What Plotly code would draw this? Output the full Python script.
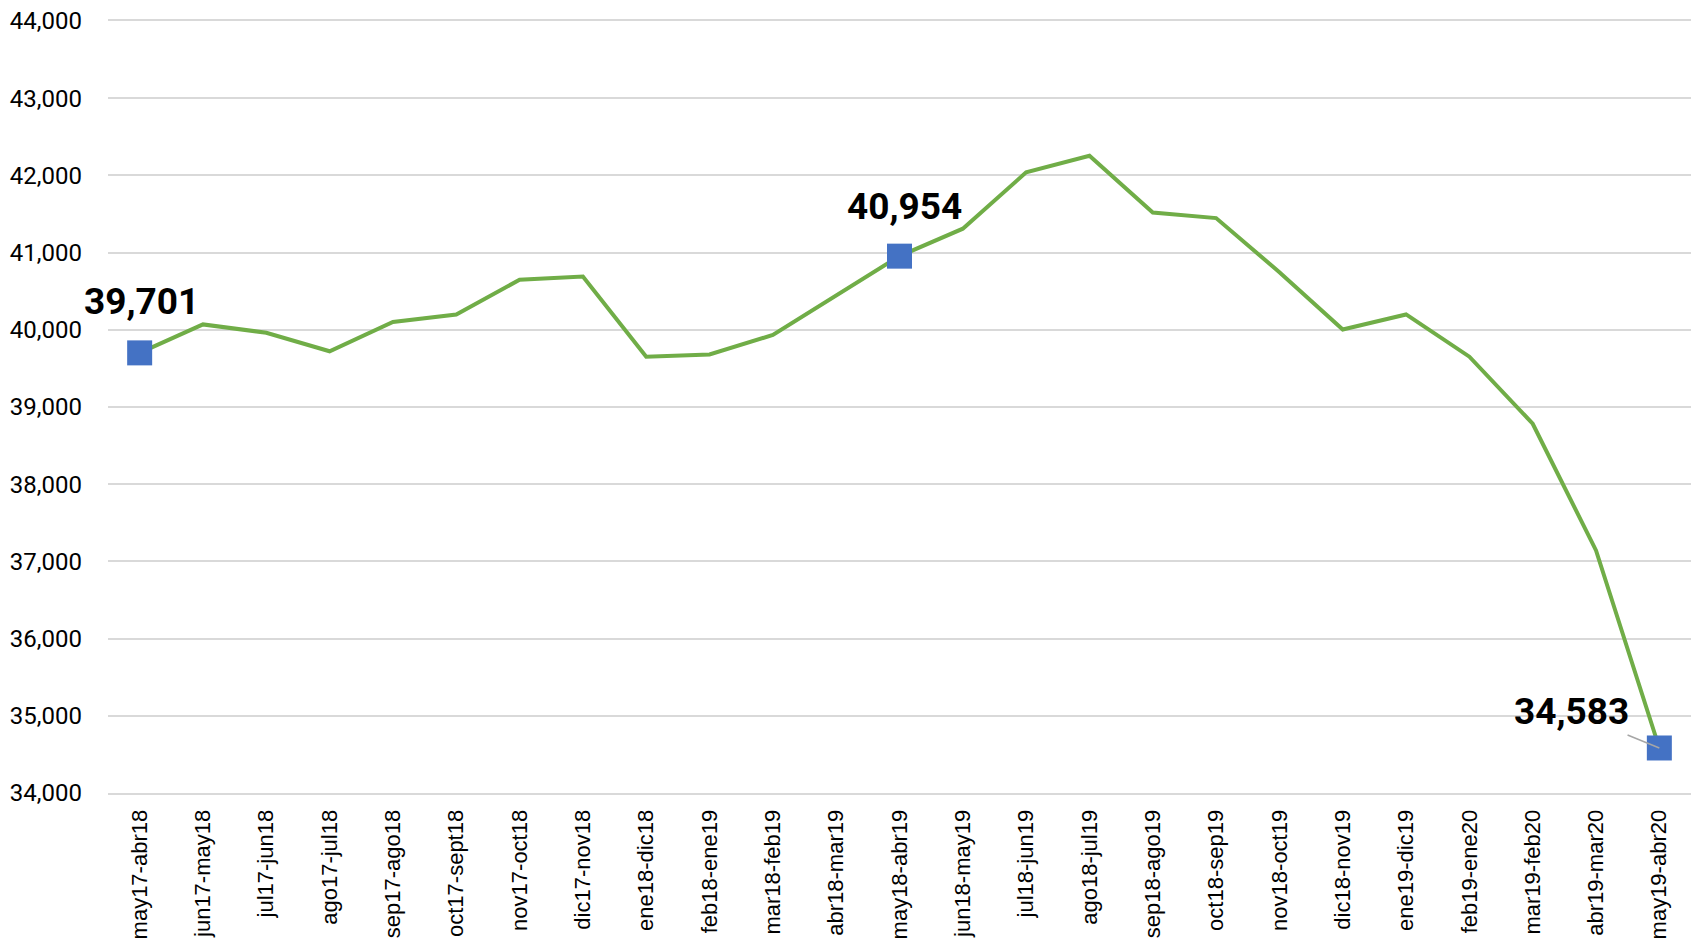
import plotly.graph_objects as go

periods = [
    "may17-abr18", "jun17-may18", "jul17-jun18", "ago17-jul18", "sep17-ago18",
    "oct17-sept18", "nov17-oct18", "dic17-nov18", "ene18-dic18", "feb18-ene19",
    "mar18-feb19", "abr18-mar19", "may18-abr19", "jun18-may19", "jul18-jun19",
    "ago18-jul19", "sep18-ago19", "oct18-sep19", "nov18-oct19", "dic18-nov19",
    "ene19-dic19", "feb19-ene20", "mar19-feb20", "abr19-mar20", "may19-abr20",
]
values = [
    39701, 40070, 39962, 39722, 40101,
    40199, 40648, 40690, 39652, 39680,
    39933, 40438, 40954, 41310, 42040,
    42255, 41520, 41447, 40746, 40003,
    40199, 39652, 38783, 37142, 34583,
]
highlight = [0, 12, 24]

hl_x = [periods[i] for i in highlight]
hl_y = [values[i] for i in highlight]

fig = go.Figure()
fig.add_trace(go.Scatter(
    x=periods, y=values, mode="lines",
    line=dict(color="#70AD47", width=4),
    hoverinfo="x+y",
))
fig.add_trace(go.Scatter(
    x=hl_x, y=hl_y, mode="markers",
    marker=dict(symbol="square", size=25, color="#4472C4"),
    hoverinfo="x+y",
))

label_font = dict(family="Roboto, Arial", size=37, color="#000000")
# first two labels sit above their point, last one to the left with a leader line
fig.add_annotation(x=hl_x[0], y=hl_y[0], text=f"<b>{hl_y[0]:,}</b>",
                   showarrow=False, yshift=51, xshift=2, font=label_font)
fig.add_annotation(x=hl_x[1], y=hl_y[1], text=f"<b>{hl_y[1]:,}</b>",
                   showarrow=False, yshift=50, xshift=5, font=label_font)
fig.add_annotation(x=hl_x[2], y=hl_y[2], text=f"<b>{hl_y[2]:,}</b>",
                   showarrow=True, arrowhead=0, arrowwidth=1.5, arrowcolor="#a6a6a6",
                   ax=-88, ay=-36, font=label_font)

# page body adds an 8px margin, so the figure is drawn 8px smaller
fig.update_layout(
    width=1691, height=943,
    margin=dict(l=100, r=8, t=13, b=158, autoexpand=False),
    paper_bgcolor="white", plot_bgcolor="white",
    showlegend=False,
    xaxis=dict(
        type="category",
        range=[-0.5, len(periods) - 0.5],
        tickangle=-90,
        tickfont=dict(family="Liberation Sans, Arial", size=22, color="#000000"),
        showgrid=False,
        showline=True, mirror=True, linecolor="#d9d9d9", linewidth=2,
        ticks="", ticklabelstandoff=6,
        automargin=False,
    ),
    yaxis=dict(
        range=[34000, 44000],
        dtick=1000,
        tickformat=",d",
        tickfont=dict(family="Roboto, Arial", size=24, color="#000000"),
        showgrid=True, gridcolor="#d9d9d9", gridwidth=2,
        zeroline=False, showline=False,
        ticks="", ticklabelstandoff=25,
        ticklabeloverflow="allow",
        automargin=False,
    ),
)

fig.write_html("out.html")
